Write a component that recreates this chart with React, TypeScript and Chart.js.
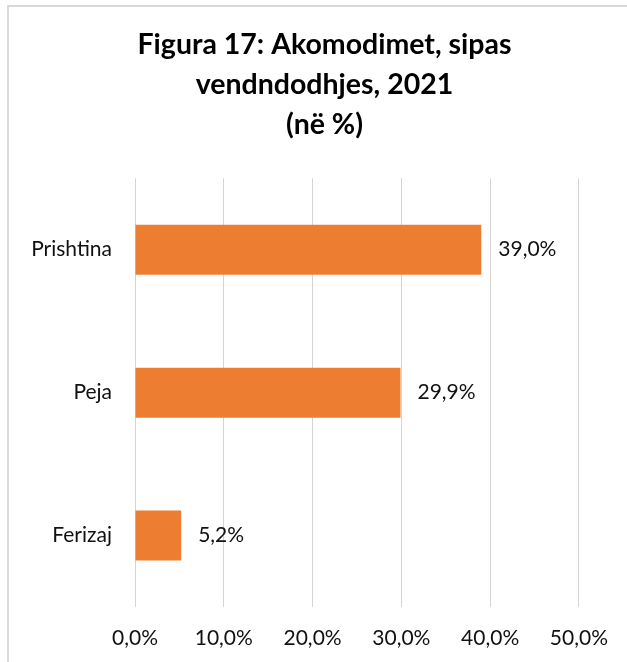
import React, { useEffect, useRef } from "react";
import { Chart, registerables } from "chart.js";

Chart.register(...registerables);

const titleLines = ["Figura 17: Akomodimet, sipas", "vendndodhjes, 2021", "(në %)"];
const categories = ["Prishtina", "Peja", "Ferizaj"];
const values = [39.0, 29.9, 5.2];
const xMin = 0;
const xMax = 50;
const xStep = 10;

const fmt = (v: number) => v.toFixed(1).replace(".", ",") + "%";

const FONT = "Lato, 'Open Sans', sans-serif";
const TEXT = "#111111";

const dataLabels = {
  id: "dataLabels",
  afterDatasetsDraw(chart: any) {
    const ctx = chart.ctx;
    const meta = chart.getDatasetMeta(0);
    ctx.save();
    ctx.font = `21px ${FONT}`;
    ctx.fillStyle = TEXT;
    ctx.textAlign = "left";
    ctx.textBaseline = "middle";
    meta.data.forEach((bar: any, i: number) => {
      ctx.fillText(fmt(values[i]), bar.x + 17, bar.y);
    });
    ctx.restore();
  },
};

export default function App() {
  const ref = useRef<HTMLCanvasElement>(null);
  useEffect(() => {
    if (!ref.current) return;
    const chart = new Chart(ref.current, {
      type: "bar",
      data: {
        labels: categories,
        datasets: [
          {
            data: values,
            backgroundColor: "#ED7D31",
            borderWidth: 0,
            barPercentage: 0.35,
            categoryPercentage: 1,
          },
        ],
      },
      options: {
        indexAxis: "y",
        responsive: false,
        animation: false,
        layout: { padding: { left: 13, right: 0, top: 0, bottom: 0 } },
        plugins: {
          legend: { display: false },
          tooltip: { enabled: false },
          title: {
            display: true,
            text: titleLines,
            color: "#000000",
            font: { family: FONT, size: 28.5, weight: "bold", lineHeight: 1.395 },
            padding: { top: 18, bottom: 34 },
          },
        },
        scales: {
          x: {
            type: "linear",
            position: "bottom",
            min: xMin,
            max: xMax,
            ticks: {
              stepSize: xStep,
              color: TEXT,
              padding: 19,
              font: { family: FONT, size: 21 },
              callback: (v: any) => fmt(Number(v)),
            },
            grid: { color: "#d4d4d4", lineWidth: 1, drawTicks: false },
            border: { display: false },
            afterFit: (s: any) => {
              s.height = 55;
            },
          },
          y: {
            position: "left",
            ticks: {
              color: TEXT,
              padding: 23,
              font: { family: FONT, size: 21 },
            },
            grid: { display: false, drawTicks: false },
            border: { display: false },
            afterFit: (s: any) => {
              s.width = 113;
            },
          },
          r: {
            type: "linear",
            position: "right",
            display: true,
            ticks: { display: false },
            grid: { display: false, drawTicks: false },
            border: { display: false },
            afterFit: (s: any) => {
              s.width = 46;
            },
          },
        },
      },
      plugins: [dataLabels],
    });
    return () => chart.destroy();
  }, []);

  return (
    <div
      style={{
        position: "absolute",
        left: 7,
        top: 5,
        width: 618,
        height: 655,
        borderLeft: "2px solid #d9d9d9",
        borderTop: "2px solid #d9d9d9",
        background: "#fff",
      }}
    >
      <canvas ref={ref} width={618} height={655} style={{ display: "block" }} />
    </div>
  );
}
